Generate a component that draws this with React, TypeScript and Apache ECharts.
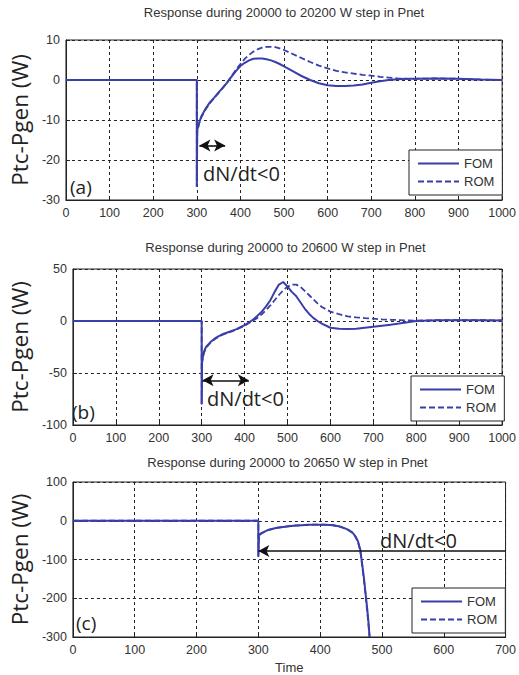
import React, { useEffect, useRef } from "react";
import * as echarts from "echarts";

// Panel (a): 20000 -> 20200 W step
const timeA = [0, 300, 300, 301, 305, 310, 320, 330, 340, 350, 360, 370, 380, 390, 400, 410, 420, 430, 440, 450, 460, 470, 480, 490, 500, 520, 540, 560, 580, 600, 620, 640, 660, 680, 700, 720, 740, 760, 780, 800, 850, 900, 950, 1000];
const fomA = [0, 0, -26.7, -12.5, -10.8, -9.2, -7.2, -5.6, -4.4, -3.1, -1.9, -0.6, 0.9, 2.3, 3.5, 4.3, 4.9, 5.3, 5.4, 5.4, 5.2, 4.9, 4.5, 4.0, 3.4, 2.2, 1.0, 0.0, -0.8, -1.3, -1.5, -1.5, -1.4, -1.1, -0.7, -0.3, 0.0, 0.2, 0.3, 0.3, 0.4, 0.3, 0.1, 0];
const romA = [0, 0, -26.7, -13, -11, -9.4, -7.4, -5.8, -4.5, -3.2, -1.9, -0.5, 1.0, 2.6, 4.0, 5.3, 6.3, 7.1, 7.7, 8.1, 8.3, 8.3, 8.2, 7.9, 7.5, 6.5, 5.5, 4.5, 3.6, 2.9, 2.3, 1.9, 1.6, 1.3, 1.1, 0.8, 0.6, 0.4, 0.3, 0.3, 0.4, 0.3, 0.1, 0];

// Panel (b): 20000 -> 20600 W step
const timeB = [0, 300, 300, 301, 305, 310, 320, 330, 340, 350, 360, 370, 380, 390, 400, 410, 420, 430, 440, 450, 460, 470, 480, 490, 500, 510, 520, 530, 540, 550, 560, 570, 580, 600, 620, 640, 660, 680, 700, 720, 740, 760, 780, 800, 850, 900, 950, 1000];
const fomB = [0, 0, -80, -38, -30, -25, -20.5, -17, -14.5, -12.5, -11, -9.5, -8, -6, -4, -1.5, 1.5, 5, 9, 14, 20, 28, 35, 37.5, 33, 28, 24, 18, 12, 7, 3, 0, -2.5, -6.5, -7.5, -7.8, -7.5, -6.5, -5.5, -4.5, -3.5, -2.5, -1.3, 0, 0.8, 0.8, 0.8, 0.5];
const romB = [0, 0, -80, -40, -31, -26, -21, -17.5, -15, -13, -11.5, -10, -8.5, -6.5, -4.5, -2, 0.5, 3, 6.5, 10.5, 15, 20, 25, 29.5, 33, 35, 35, 33, 29, 25, 21, 17, 13.5, 9, 6.5, 4.5, 3.5, 2.8, 2.2, 1.6, 1.2, 0.9, 0.6, 0.4, 0.8, 0.8, 0.8, 0.5];

// Panel (c): 20000 -> 20650 W step
const timeC = [0, 300, 300, 301, 305, 310, 317, 330, 340, 350, 360, 370, 380, 390, 400, 410, 420, 430, 436, 445, 452, 457, 461, 465, 468, 471, 473, 476, 478, 480];
const fomC = [0, 0, -92, -37, -32, -28, -23, -18, -16, -14, -12.5, -11.5, -10.5, -10, -10, -10.5, -11.5, -14, -17, -23, -30, -40, -52, -75, -112, -150, -180, -225, -258, -300];
const romC = [0, 0, -92, -38, -33, -28.5, -23.5, -18.5, -16, -14, -12.5, -11.5, -10.5, -10, -10, -10.5, -11.5, -14, -17.5, -23.5, -31, -41, -54, -78, -116, -155, -185, -232, -265, -300];

// Axis ranges per panel: [xMax, yMin, yMax, yInterval]
const axisA = [1000, -30, 10, 10];
const axisB = [1000, -100, 50, 50];
const axisC = [700, -300, 100, 100];

// dN/dt<0 arrows: [tStart, tEnd, level]
const arrowA = [306, 365, -16.4];
const arrowB = [302, 410, -57];
const arrowC = [700, 300, -78];

const titles = [
  "Response during 20000 to 20200 W step in Pnet",
  "Response during 20000 to 20600 W step in Pnet",
  "Response during 20000 to 20650 W step in Pnet",
];
const seriesNames = ["FOM", "ROM"];

const BLUE = "#3a3ea8";
const INK = "#222";
const TICK_FONT = "'Liberation Sans', Arial, sans-serif";
const LABEL_FONT = "'Open Sans', 'Noto Sans', sans-serif";

const zip = (t: number[], v: number[]) => t.map((x, i) => [x, v[i]]);

export default function App() {
  const ref = useRef<HTMLDivElement>(null);

  useEffect(() => {
    if (!ref.current) return;
    const chart = echarts.init(ref.current, undefined, { renderer: "svg" });

    const grids = [
      { left: 65, top: 40, width: 438, height: 160 },
      { left: 66, top: 269, width: 439, height: 156 },
      { left: 68, top: 482, width: 439, height: 155 },
    ];
    const axes = [axisA, axisB, axisC];
    const nameGaps = [34, 35, 37];

    const tickLabel = {
      fontSize: 12.5,
      fontFamily: TICK_FONT,
      color: "#333",
      formatter: (v: number) => String(v),
    };

    const xAxis = axes.map((a, i) => ({
      type: "value",
      gridIndex: i,
      min: 0,
      max: a[0],
      interval: 100,
      axisLine: { show: true, onZero: false, lineStyle: { color: INK, width: 1 } },
      axisTick: { show: true, inside: true, length: 4, lineStyle: { color: INK } },
      axisLabel: { ...tickLabel, margin: 6 },
      splitLine: { show: true, lineStyle: { color: INK, width: 1, type: [3, 3] } },
      ...(i === 2
        ? {
            name: "Time",
            nameLocation: "middle",
            nameGap: 24,
            nameTextStyle: { fontSize: 13, fontFamily: TICK_FONT, color: "#333" },
          }
        : {}),
    }));

    const yAxis = axes.map((a, i) => ({
      type: "value",
      gridIndex: i,
      min: a[1],
      max: a[2],
      interval: a[3],
      name: "Ptc-Pgen (W)",
      nameLocation: "middle",
      nameRotate: 90,
      nameGap: nameGaps[i],
      nameTextStyle: { fontSize: 22.5, fontFamily: LABEL_FONT, color: INK },
      axisLine: { show: true, onZero: false, lineStyle: { color: INK, width: 1 } },
      axisTick: { show: true, inside: true, length: 4, lineStyle: { color: INK } },
      axisLabel: { ...tickLabel, margin: 6 },
      splitLine: { show: true, lineStyle: { color: INK, width: 1, type: [3, 3] } },
    }));

    const arrowLine = (arr: number[], symbols: string[]) => ({
      silent: true,
      symbol: symbols,
      symbolSize: [9, 11],
      label: { show: false },
      lineStyle: { color: "#111", width: 1.6, type: "solid" },
      data: [[{ coord: [arr[0], arr[2]] }, { coord: [arr[1], arr[2]] }]],
    });

    const panelData = [
      [timeA, fomA, romA],
      [timeB, fomB, romB],
      [timeC, fomC, romC],
    ];
    const arrows = [
      arrowLine(arrowA, ["arrow", "arrow"]),
      arrowLine(arrowB, ["arrow", "arrow"]),
      arrowLine(arrowC, ["none", "arrow"]),
    ];

    const series: any[] = [];
    panelData.forEach(([t, fom, rom], i) => {
      series.push({
        name: seriesNames[1],
        type: "line",
        xAxisIndex: i,
        yAxisIndex: i,
        data: zip(t, rom),
        symbol: "none",
        lineStyle: { color: BLUE, width: 1.8, type: [6, 3] },
        itemStyle: { color: BLUE },
        z: 3,
      });
      series.push({
        name: seriesNames[0],
        type: "line",
        xAxisIndex: i,
        yAxisIndex: i,
        data: zip(t, fom),
        symbol: "none",
        lineStyle: { color: BLUE, width: 2 },
        itemStyle: { color: BLUE },
        z: 4,
        markLine: arrows[i],
      });
    });

    const legendPos = [
      { left: 409, top: 150 },
      { left: 411, top: 376 },
      { left: 412, top: 588 },
    ];
    const legend = legendPos.map((p) => ({
      ...p,
      orient: "vertical",
      data: seriesNames,
      itemWidth: 41,
      itemHeight: 14,
      itemGap: 5,
      itemTextGap: 5,
      padding: [7, 8, 7, 8],
      backgroundColor: "#fff",
      borderColor: INK,
      borderWidth: 1,
      borderRadius: 0,
      selectedMode: false,
      // line-only keys: hide the marker that line series put in the key
      itemStyle: { color: "transparent", borderColor: "transparent", borderWidth: 0, opacity: 0 },
      textStyle: { fontSize: 13, fontFamily: TICK_FONT, color: "#333" },
    }));

    const titleTops = [6, 241, 456];
    const title = titles.map((text, i) => ({
      text,
      left: grids[i].left + grids[i].width / 2,
      top: titleTops[i],
      padding: 0,
      textAlign: "center",
      textStyle: { fontSize: 13, fontWeight: "normal", fontFamily: TICK_FONT, color: "#333" },
    }));

    const tag = (text: string, x: number, y: number, size: number) => ({
      type: "text",
      x,
      y,
      silent: true,
      style: {
        text,
        fill: INK,
        font: `${size}px ${LABEL_FONT}`,
        verticalAlign: "middle",
      },
      z: 10,
    });

    chart.setOption({
      animation: false,
      backgroundColor: "#fff",
      title,
      legend,
      grid: grids.map((g) => ({ ...g, show: true, borderColor: INK, borderWidth: 1, backgroundColor: "transparent" })),
      xAxis,
      yAxis,
      series,
      graphic: [
        tag("(a)", 70, 187, 19),
        tag("dN/dt<0", 203, 173, 20),
        tag("(b)", 72, 412, 19),
        tag("dN/dt<0", 207, 398, 20),
        tag("(c)", 76, 623, 19),
        tag("dN/dt<0", 380, 540, 20),
      ],
    });

    return () => chart.dispose();
  }, []);

  return (
    <div
      ref={ref}
      style={{ position: "absolute", left: 0, top: 0, width: 519, height: 675, background: "#fff" }}
    />
  );
}
